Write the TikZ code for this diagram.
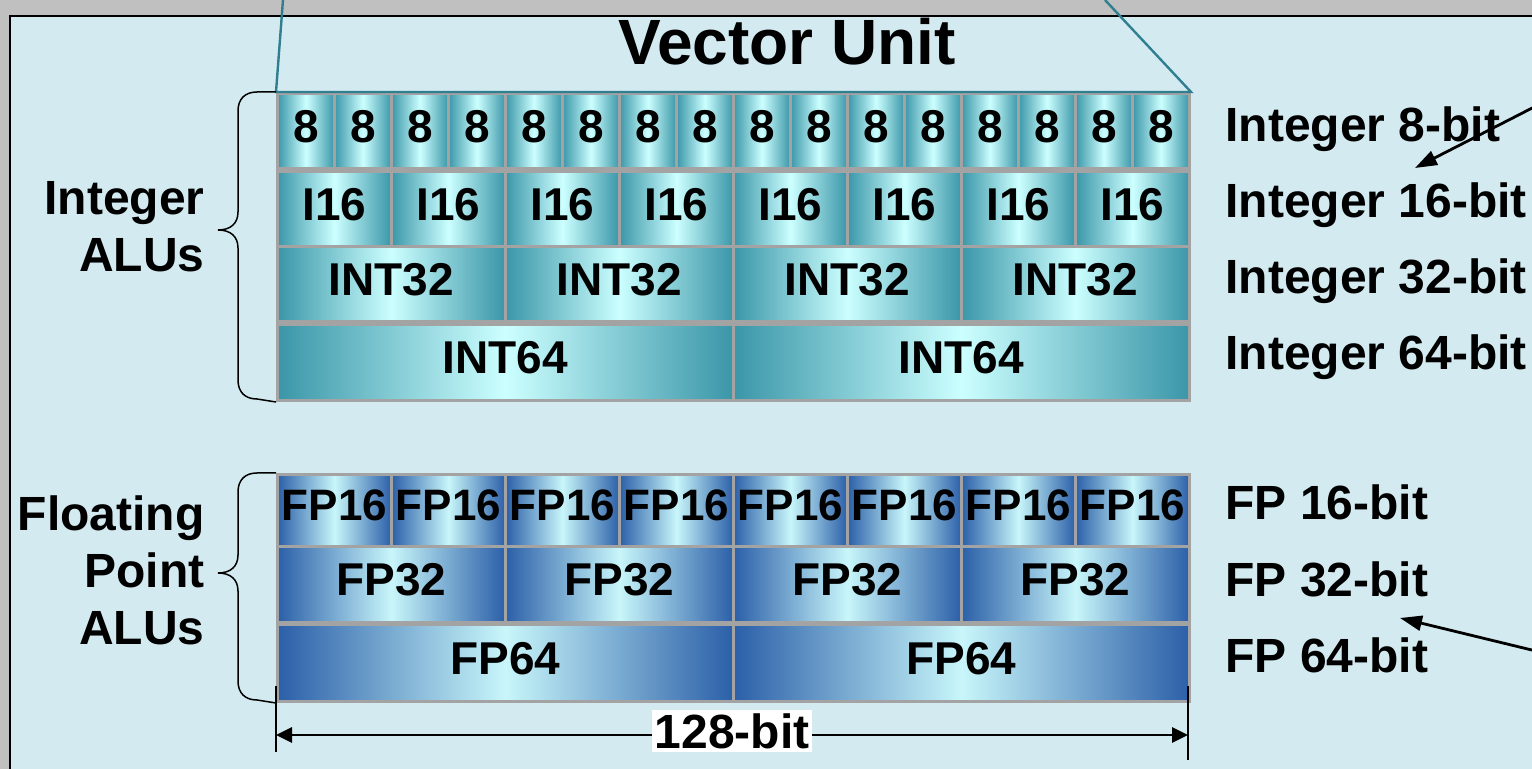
\documentclass[tikz,border=0pt]{standalone}
\usepackage{fontspec}
\setmainfont{Liberation Sans}
\usetikzlibrary{arrows.meta, positioning}
\definecolor{bggrey}{HTML}{C0C0C0}
\definecolor{panel}{HTML}{D3EBF0}
\definecolor{cellgrey}{HTML}{A3A3A3}
\definecolor{tealdark}{HTML}{3A96A8}
\definecolor{teallight}{HTML}{CCFFFF}
\definecolor{fpdark}{HTML}{2B5FA8}
\definecolor{fplight}{HTML}{C8F6FA}
\definecolor{zoomline}{HTML}{2F7F91}
\def\cellfont{\fontsize{23}{26}\selectfont\bfseries}
\def\lblfont{\fontsize{24}{28.5}\selectfont\bfseries}
\tikzstyle{intcell} = [draw=cellgrey, line width=1.5pt, left color=tealdark,
    right color=tealdark, middle color=teallight, anchor=north west,
    inner sep=0pt, text depth=5pt, font=\cellfont]
\tikzstyle{fpcell} = [intcell, left color=fpdark, right color=fpdark,
    middle color=fplight]
\tikzstyle{sidelabel} = [anchor=base west, inner sep=0pt, font=\lblfont]
\tikzstyle{grouplabel} = [anchor=east, align=right, inner sep=0pt, font=\lblfont]
\tikzstyle{brace} = [line width=0.75pt]
\tikzstyle{pointer} = [line width=1.4pt, -{Triangle[length=11pt,width=7.5pt]}]
\tikzstyle{dimArrow} = [line width=1.4pt,
    {Triangle[length=8pt,width=7.5pt]}-{Triangle[length=8pt,width=7.5pt]}]
\begin{document}
\begin{tikzpicture}[x=0.5pt, y=-0.5pt]
\useasboundingbox (0,0) rectangle (1532,769);
\fill[bggrey] (0,0) rectangle (1532,769);
\draw[fill=panel, line width=1.2pt] (10,16) rectangle (1560,800);

\node[font=\fontsize{32}{36}\selectfont\bfseries] (title) at (787,42) {Vector Unit};

% integer ALUs
\foreach \i in {0,...,15}
  \node[intcell, minimum width=28.5pt, minimum height=37.5pt] (i8-\i) at ({276+57*\i},92) {8};
\foreach \i in {0,...,7}
  \node[intcell, minimum width=57pt, minimum height=37.5pt] (i16-\i) at ({276+114*\i},170) {I16};
\foreach \i in {0,...,3}
  \node[intcell, minimum width=114pt, minimum height=37.5pt] (i32-\i) at ({276+228*\i},245) {INT32};
\foreach \i in {0,1}
  \node[intcell, minimum width=228pt, minimum height=38pt] (i64-\i) at ({276+456*\i},323) {INT64};

% floating point ALUs
\foreach \i in {0,...,7}
  \node[fpcell, minimum width=57pt, minimum height=36pt, font=\fontsize{22}{26}\selectfont\bfseries] (f16-\i) at ({276+114*\i},473) {FP16};
\foreach \i in {0,...,3}
  \node[fpcell, minimum width=114pt, minimum height=38pt] (f32-\i) at ({276+228*\i},545) {FP32};
\foreach \i in {0,1}
  \node[fpcell, minimum width=228pt, minimum height=38.5pt] (f64-\i) at ({276+456*\i},623) {FP64};

% zoom lines from above
\coordinate (zoomL) at (283,0);
\coordinate (zoomR) at (1105,0);
\draw[zoomline, line width=1.2pt] (zoomL) -- (i8-0.north west) -- (i8-15.north east) -- (zoomR);

% right labels
\node[sidelabel] (l8) at (1225,142) {Integer 8-bit};
\node[sidelabel] (l16) at (1225,218) {Integer 16-bit};
\node[sidelabel] (l32) at (1225,294) {Integer 32-bit};
\node[sidelabel] (l64) at (1225,370) {Integer 64-bit};
\node[sidelabel] (lf16) at (1225,520) {FP 16-bit};
\node[sidelabel] (lf32) at (1225,597) {FP 32-bit};
\node[sidelabel] (lf64) at (1225,673) {FP 64-bit};

% braces and group names
\coordinate (inttip) at (218,230);
\coordinate (fptip) at (218,573);
\draw[brace] (i8-0.north west) -- (257,92) .. controls (245,92) and (238,99) .. (238,111)
  -- (238,212) .. controls (238,224) and (230,230) .. (inttip)
  .. controls (230,230) and (238,236) .. (238,248)
  -- (238,380) .. controls (238,392) and (245,399) .. (257,399) -- (i64-0.south west);
\draw[brace] (f16-0.north west) -- (257,473) .. controls (245,473) and (238,480) .. (238,492)
  -- (238,555) .. controls (238,567) and (230,573) .. (fptip)
  .. controls (230,573) and (238,579) .. (238,591)
  -- (238,681) .. controls (238,693) and (245,700) .. (257,700) -- (f64-0.south west);
\node[grouplabel, left=6.5pt of inttip, yshift=1.5pt] (intname) {Integer\\ALUs};
\node[grouplabel, left=6.5pt of fptip, yshift=1.5pt] (fpname) {Floating\\Point\\ALUs};

% pointers coming in from the right
\coordinate (ptrA) at (1540,104);
\coordinate (tipA) at (1415,168);
\coordinate (ptrB) at (1540,652);
\coordinate (tipB) at (1400,618);
\draw[pointer] (ptrA) -- (tipA);
\draw[pointer] (ptrB) -- (tipB);

% width
\coordinate (tickL) at (276,686);
\coordinate (tickR) at (1188,686);
\draw[line width=1.4pt] (tickL) -- ++(0,66);
\draw[line width=1.4pt] (tickR) -- ++(0,74);
\coordinate (dimL) at (276,735);
\coordinate (dimR) at (1188,735);
\draw[dimArrow] (dimL) -- node[fill=white, inner sep=1.5pt, font=\lblfont, yshift=2pt] (width) {128-bit} (dimR);
\end{tikzpicture}
\end{document}
